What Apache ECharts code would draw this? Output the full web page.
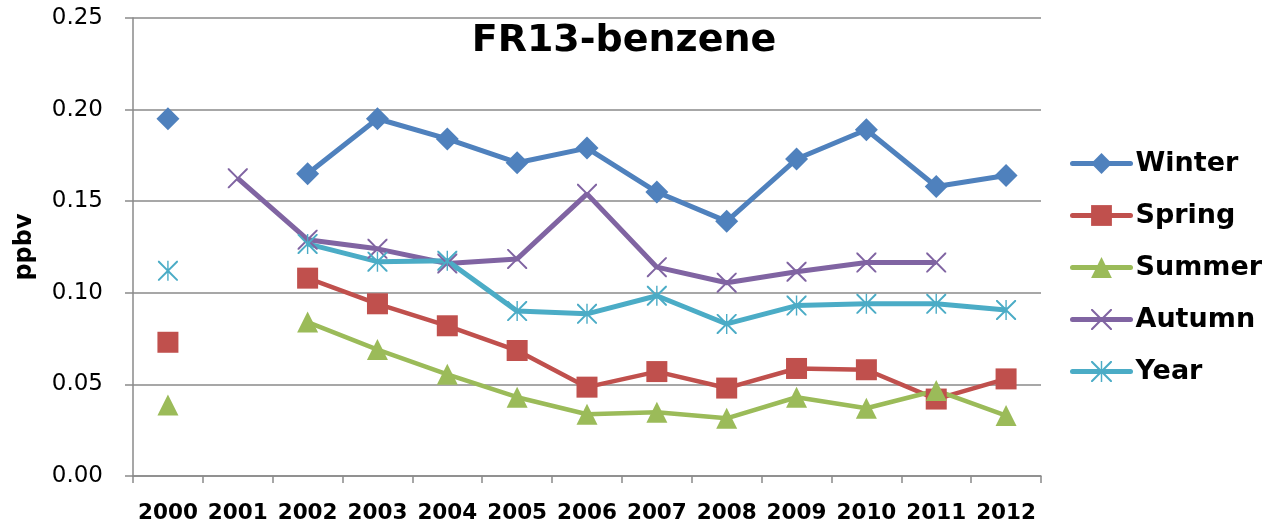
<!DOCTYPE html>
<html>
<head>
<meta charset="utf-8">
<script src="https://cdn.jsdelivr.net/npm/echarts@6/dist/echarts.min.js"></script>
<style>
  html, body { margin: 0; padding: 0; background: #fff; }
  #chart { width: 1262px; height: 526px; }
</style>
</head>
<body>
<div id="chart"></div>
<script>
// datos
const years = ['2000', '2001', '2002', '2003', '2004', '2005', '2006', '2007', '2008', '2009', '2010', '2011', '2012'];
const winter = [0.195, null, 0.165, 0.195, 0.184, 0.171, 0.179, 0.155, 0.139, 0.173, 0.189, 0.158, 0.164];
const spring = [0.073, null, 0.108, 0.094, 0.082, 0.0685, 0.0485, 0.057, 0.048, 0.0587, 0.058, 0.042, 0.053];
const summer = [0.0388, null, 0.084, 0.069, 0.0555, 0.043, 0.0337, 0.0348, 0.0315, 0.043, 0.037, 0.0467, 0.033];
const autumn = [null, 0.1625, 0.129, 0.124, 0.116, 0.1185, 0.154, 0.114, 0.1055, 0.1115, 0.1165, 0.1165, null];
const yearAvg = [0.112, null, 0.1267, 0.117, 0.1175, 0.090, 0.0885, 0.0984, 0.083, 0.093, 0.094, 0.094, 0.0906];
const yTicks = [0, 0.05, 0.10, 0.15, 0.20, 0.25];

// Paleta
const colors = ['#4F81BD', '#C0504D', '#9BBB59', '#8064A2', '#4BACC6'];
const gridColor = '#8a8a8a';
const font = 'DejaVu Sans';

// marcadores de trazo fino
const crossPath = 'path://M0,0 L1.4,0 L10,8.6 L18.6,0 L20,0 L20,1.4 L11.4,10 L20,18.6 L20,20 L18.6,20 L10,11.4 L1.4,20 L0,20 L0,18.6 L8.6,10 L0,1.4 Z';
const starPath = 'path://M0,0 L1.4,0 L10,8.6 L18.6,0 L20,0 L20,1.4 L11.4,10 L20,18.6 L20,20 L18.6,20 L10,11.4 L1.4,20 L0,20 L0,18.6 L8.6,10 L0,1.4 Z M9.3,0 L10.7,0 L10.7,20 L9.3,20 Z';

function lineSeries(name, data, color, symbol, size, width) {
    return {
        name: name,
        type: 'line',
        data: data,
        symbol: symbol,
        symbolSize: size,
        showAllSymbol: true,
        connectNulls: false,
        lineStyle: { width: width, color: color },
        itemStyle: { color: color },
        emphasis: { disabled: true }
    };
}

const chart = echarts.init(document.getElementById('chart'));
chart.setOption({
    animation: false,
    title: {
        text: 'FR13-benzene',
        left: 619,
        top: 17,
        textAlign: 'center',
        textStyle: { fontFamily: font, fontWeight: 'bold', fontSize: 38, color: '#000' }
    },
    legend: {
        orient: 'vertical',
        left: 1065,
        top: 145,
        itemWidth: 58,
        itemHeight: 26,
        itemGap: 25,
        lineStyle: { width: 5, cap: 'round' },
        textStyle: { fontFamily: font, fontWeight: 'bold', fontSize: 27, color: '#000', lineHeight: 26 },
        data: ['Winter', 'Spring', 'Summer', 'Autumn', 'Year']
    },
    grid: { left: 133, right: 221, top: 18, bottom: 50 },
    xAxis: {
        type: 'category',
        data: years,
        boundaryGap: true,
        axisLine: { lineStyle: { color: gridColor, width: 1.5 } },
        axisTick: { show: true, interval: 0, length: 7, lineStyle: { color: gridColor, width: 1.5 } },
        axisLabel: { interval: 0, margin: 26, fontFamily: font, fontWeight: 'bold', fontSize: 21.5, color: '#000' }
    },
    yAxis: {
        type: 'value',
        min: yTicks[0],
        max: yTicks[yTicks.length - 1],
        interval: 0.05,
        name: 'ppbv',
        nameLocation: 'middle',
        nameGap: 96,
        nameTextStyle: { fontFamily: font, fontWeight: 'bold', fontSize: 24, color: '#000' },
        axisLine: { show: true, lineStyle: { color: gridColor, width: 1.5 } },
        axisTick: { show: true, length: 8, lineStyle: { color: gridColor, width: 1.5 } },
        splitLine: { lineStyle: { color: gridColor, width: 1.5 } },
        axisLabel: {
            margin: 30,
            fontFamily: font,
            fontSize: 23,
            color: '#000',
            formatter: v => v.toFixed(2)
        }
    },
    series: [
        lineSeries('Winter', winter, colors[0], 'diamond', 23, 5),
        lineSeries('Spring', spring, colors[1], 'rect', 21, 4.5),
        lineSeries('Summer', summer, colors[2], 'triangle', 21, 4.5),
        lineSeries('Autumn', autumn, colors[3], crossPath, 20, 5),
        lineSeries('Year', yearAvg, colors[4], starPath, 20, 5)
    ]
});

window.addEventListener('resize', () => chart.resize());
</script>
</body>
</html>
